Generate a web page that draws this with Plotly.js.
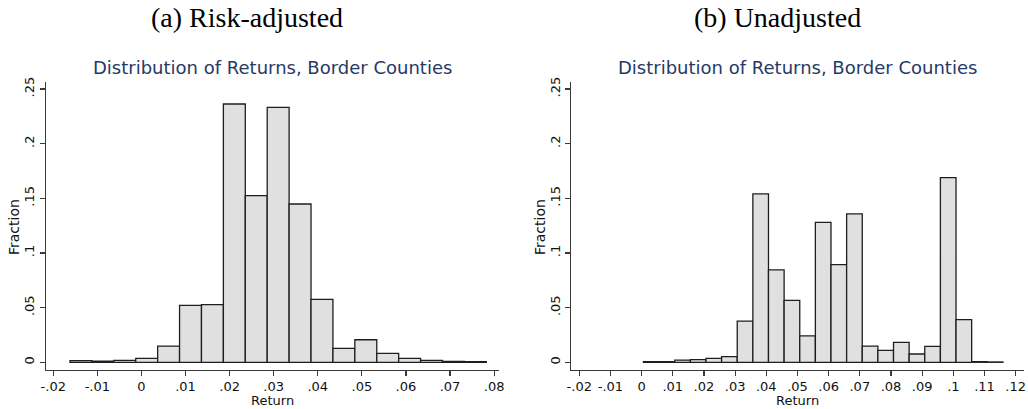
<!DOCTYPE html>
<html>
<head>
<meta charset="utf-8">
<script src="https://cdn.plot.ly/plotly-3.0.1.min.js"></script>
<style>html,body{margin:0;padding:0;background:#fff;}#chart{width:1028px;height:409px;}</style>
</head>
<body>
<div id="chart"></div>
<script>
// ---- Data ----
// (a) Risk-adjusted: 19 bins
const riskBinStart = -0.0162;
const riskBinWidth = 0.00497;
const riskFraction = [0.0015, 0.0010, 0.0018, 0.0036, 0.0148, 0.0520, 0.0527, 0.2363, 0.1524, 0.2333, 0.1448, 0.0576, 0.0127, 0.0206, 0.0082, 0.0036, 0.0018, 0.0009, 0.0006];
// (b) Unadjusted: 23 bins
const unadjBinStart = 0.0006;
const unadjBinWidth = 0.005013;
const unadjFraction = [0.0006, 0.0006, 0.0020, 0.0024, 0.0036, 0.0052, 0.0376, 0.1540, 0.0845, 0.0567, 0.0242, 0.1280, 0.0894, 0.1357, 0.0148, 0.0109, 0.0182, 0.0076, 0.0145, 0.1689, 0.0391, 0.0006, 0.0003];

const riskTickVals = [-0.02, -0.01, 0, 0.01, 0.02, 0.03, 0.04, 0.05, 0.06, 0.07, 0.08];
const riskTickText = ['-.02', '-.01', '0', '.01', '.02', '.03', '.04', '.05', '.06', '.07', '.08'];
const unadjTickVals = [-0.02, -0.01, 0, 0.01, 0.02, 0.03, 0.04, 0.05, 0.06, 0.07, 0.08, 0.09, 0.10, 0.11, 0.12];
const unadjTickText = ['-.02', '-.01', '0', '.01', '.02', '.03', '.04', '.05', '.06', '.07', '.08', '.09', '.1', '.11', '.12'];
const yTickVals = [0, 0.05, 0.10, 0.15, 0.20, 0.25];
const yTickText = ['0', '.05', '.1', '.15', '.2', '.25'];

const panelHeadings = ['(a) Risk-adjusted', '(b) Unadjusted'];
const chartTitle = 'Distribution of Returns, Border Counties';
const xTitle = 'Return';
const yTitle = 'Fraction';

// ---- Build traces ----
function centers(start, width, n) {
  const c = [];
  for (let i = 0; i < n; i++) c.push(start + width * (i + 0.5));
  return c;
}
const barStyle = {color: '#e0e0e0', line: {color: '#1e1e1e', width: 1.3}};
const traces = [
  {type: 'bar', x: centers(riskBinStart, riskBinWidth, riskFraction.length), y: riskFraction,
   width: riskBinWidth, marker: barStyle, xaxis: 'x', yaxis: 'y', hoverinfo: 'x+y'},
  {type: 'bar', x: centers(unadjBinStart, unadjBinWidth, unadjFraction.length), y: unadjFraction,
   width: unadjBinWidth, marker: barStyle, xaxis: 'x2', yaxis: 'y2', hoverinfo: 'x+y'}
];

const tickFont = {family: 'DejaVu Sans', size: 13, color: '#111'};
const axisLine = {showline: true, linecolor: '#3a3a3a', linewidth: 1.2, ticks: 'outside', ticklen: 5,
  tickcolor: '#3a3a3a', tickwidth: 1.2, showgrid: false, zeroline: false, tickfont: tickFont, fixedrange: true};
const yDom = [0.0954, 0.8002];

const layout = {
  width: 1028, height: 409,
  margin: {l: 0, r: 0, t: 0, b: 0},
  paper_bgcolor: '#fff', plot_bgcolor: '#fff',
  showlegend: false, bargap: 0,
  font: {family: 'DejaVu Sans'},
  xaxis: Object.assign({}, axisLine, {domain: [0.0445, 0.4854], range: [-0.0217, 0.0811],
    tickmode: 'array', tickvals: riskTickVals, ticktext: riskTickText, anchor: 'y', ticklabelstandoff: -1}),
  yaxis: Object.assign({}, axisLine, {domain: yDom, range: [-0.00704, 0.2567],
    tickmode: 'array', tickvals: yTickVals, ticktext: yTickText, tickangle: -90, anchor: 'x'}),
  xaxis2: Object.assign({}, axisLine, {domain: [0.5557, 0.9961], range: [-0.02256, 0.12266],
    tickmode: 'array', tickvals: unadjTickVals, ticktext: unadjTickText, anchor: 'y2', ticklabelstandoff: -1}),
  yaxis2: Object.assign({}, axisLine, {domain: yDom, range: [-0.00704, 0.2567],
    tickmode: 'array', tickvals: yTickVals, ticktext: yTickText, tickangle: -90, anchor: 'x2'}),
  annotations: [
    {text: panelHeadings[0], x: 246.5 / 1028, y: 1 - 17 / 409, xref: 'paper', yref: 'paper',
     xanchor: 'center', yanchor: 'middle', showarrow: false,
     font: {family: 'Liberation Serif', size: 28, color: '#000'}},
    {text: panelHeadings[1], x: 777.5 / 1028, y: 1 - 17 / 409, xref: 'paper', yref: 'paper',
     xanchor: 'center', yanchor: 'middle', showarrow: false,
     font: {family: 'Liberation Serif', size: 28, color: '#000'}},
    {text: chartTitle, x: 272 / 1028, y: 1 - 67 / 409, xref: 'paper', yref: 'paper',
     xanchor: 'center', yanchor: 'middle', showarrow: false,
     font: {family: 'DejaVu Sans', size: 18, color: '#263a66'}},
    {text: chartTitle, x: 797.5 / 1028, y: 1 - 67 / 409, xref: 'paper', yref: 'paper',
     xanchor: 'center', yanchor: 'middle', showarrow: false,
     font: {family: 'DejaVu Sans', size: 18, color: '#263a66'}},
    {text: xTitle, x: 272 / 1028, y: 0, xref: 'paper', yref: 'paper',
     xanchor: 'center', yanchor: 'bottom', showarrow: false, borderpad: 0,
     font: {family: 'DejaVu Sans', size: 13, color: '#111'}},
    {text: xTitle, x: 797.5 / 1028, y: 0, xref: 'paper', yref: 'paper',
     xanchor: 'center', yanchor: 'bottom', showarrow: false, borderpad: 0,
     font: {family: 'DejaVu Sans', size: 13, color: '#111'}},
    {text: yTitle, x: 14 / 1028, y: 1 - 227 / 409, xref: 'paper', yref: 'paper', textangle: -90,
     xanchor: 'center', yanchor: 'middle', showarrow: false,
     font: {family: 'DejaVu Sans', size: 14, color: '#111'}},
    {text: yTitle, x: 540 / 1028, y: 1 - 227 / 409, xref: 'paper', yref: 'paper', textangle: -90,
     xanchor: 'center', yanchor: 'middle', showarrow: false,
     font: {family: 'DejaVu Sans', size: 14, color: '#111'}}
  ]
};

Plotly.newPlot('chart', traces, layout, {displayModeBar: false, staticPlot: true});
</script>
</body>
</html>
